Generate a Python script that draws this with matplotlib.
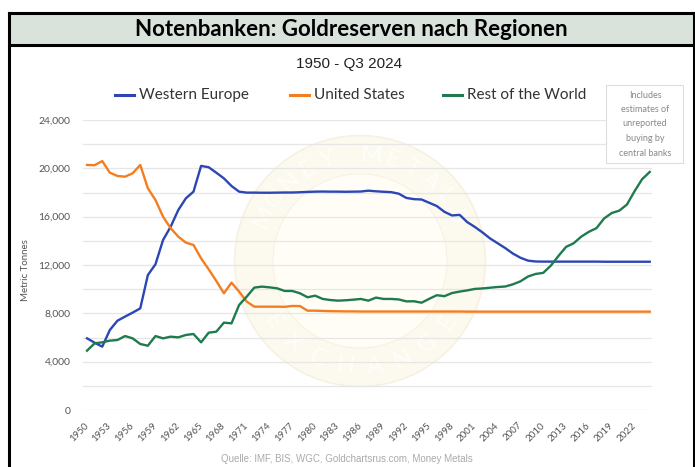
import matplotlib
matplotlib.use('Agg')
import matplotlib.pyplot as plt
import numpy as np
from matplotlib.lines import Line2D
from matplotlib.patches import Rectangle, Circle

# Data (metric tonnes)
years = list(range(1950, 2025))

western_europe = [
    5930, 5570, 5240, 6620, 7390, 7730, 8060, 8410, 11170, 12060,
    14070, 15170, 16550, 17520, 18070, 20200, 20090, 19640, 19170, 18540,
    18070, 17990, 17990, 17980, 17980, 17990, 18000, 18000, 18020, 18050,
    18070, 18080, 18070, 18070, 18060, 18070, 18080, 18150, 18100, 18060,
    18030, 17900, 17550, 17450, 17420, 17150, 16880, 16400, 16100, 16150,
    15550, 15150, 14700, 14200, 13800, 13400, 12950, 12600, 12360, 12290,
    12280, 12280, 12280, 12280, 12280, 12280, 12280, 12280, 12270, 12270,
    12270, 12270, 12270, 12270, 12270,
]

united_states = [
    20280, 20260, 20600, 19640, 19370, 19310, 19590, 20280, 18350, 17380,
    16000, 15040, 14350, 13850, 13660, 12550, 11640, 10680, 9660, 10540,
    9800, 8970, 8550, 8550, 8550, 8550, 8540, 8610, 8600, 8220,
    8220, 8200, 8180, 8170, 8160, 8160, 8150, 8150, 8150, 8150,
    8150, 8150, 8150, 8150, 8150, 8150, 8150, 8150, 8150, 8150,
    8140, 8140, 8140, 8140, 8140, 8140, 8140, 8140, 8140, 8140,
    8140, 8140, 8140, 8140, 8140, 8140, 8140, 8140, 8140, 8140,
    8140, 8140, 8140, 8140, 8140,
]

rest_of_world = [
    4910, 5520, 5600, 5740, 5790, 6120, 5930, 5460, 5320, 6120,
    5930, 6070, 6010, 6210, 6290, 5600, 6400, 6480, 7230, 7170,
    8690, 9380, 10130, 10210, 10150, 10070, 9850, 9850, 9660, 9330,
    9460, 9190, 9100, 9050, 9080, 9130, 9190, 9050, 9300, 9190,
    9190, 9150, 8990, 9000, 8880, 9200, 9500, 9420, 9680, 9800,
    9900, 10020, 10060, 10120, 10180, 10220, 10400, 10650, 11050, 11260,
    11350, 11950, 12750, 13500, 13800, 14350, 14750, 15050, 15850, 16300,
    16500, 17000, 18100, 19100, 19700,
]

series = [
    ('Western Europe', western_europe, '#2c46b4'),
    ('United States', united_states, '#f47d20'),
    ('Rest of the World', rest_of_world, '#1f7b4d'),
]

x_ticks = list(range(1950, 2023, 3))
y_ticks = [0, 4000, 8000, 12000, 16000, 20000, 24000]
y_grid = list(range(0, 24001, 2000))

W, H = 695, 467
fig = plt.figure(figsize=(W / 100, H / 100), dpi=100)
fig.patch.set_facecolor('white')


def fx(px):
    return px / W


def fy(py):
    return 1 - py / H


# faint watermark behind the plot
wm = fig.add_axes([fx(232), fy(389), fx(256), 256 / H], zorder=0)
wm.set_xlim(-1, 1)
wm.set_ylim(-1, 1)
wm.axis('off')
wm.add_patch(Circle((0, 0), 0.98, facecolor='#fcf9ef', edgecolor='#f6f1e2', lw=1.2))
wm.add_patch(Circle((0, 0), 0.68, facecolor='#fffdf6', edgecolor='#f7f2e4', lw=0.8))
for word, a0, a1, up in [('MONEY METALS', 155, 25, True), ('EXCHANGE', 215, 325, False)]:
    angs = np.linspace(a0, a1, len(word))
    for ch, a in zip(word, angs):
        r = 0.83
        rot = a - 90 if up else a + 90
        wm.text(r * np.cos(np.radians(a)), r * np.sin(np.radians(a)), ch,
                rotation=rot, ha='center', va='center', fontsize=17,
                color='#fffefa', family='Lato')

ax = fig.add_axes([fx(83), fy(410), fx(652) - fx(83), (410 - 120) / H], zorder=1)
ax.patch.set_alpha(0)

for y in y_grid:
    ax.axhline(y, color='#e6e6e6', lw=0.9, zorder=0)

for name, vals, col in series:
    ax.plot(years, vals, color=col, lw=1.7, zorder=3, solid_joinstyle='round')

ax.set_xlim(1949.47, 2024.3)
ax.set_ylim(0, 24000)
ax.set_xticks(x_ticks)
ax.set_xticklabels([str(v) for v in x_ticks], rotation=45, ha='right',
                   rotation_mode='anchor', va='center',
                   fontsize=7, color='#555555', family='Lato')
ax.set_yticks(y_ticks)
ax.set_yticklabels([f'{v:,}' for v in y_ticks], fontsize=7.5,
                   color='#555555', family='Lato')
ax.tick_params(axis='both', length=0)
ax.tick_params(axis='x', pad=10)
ax.tick_params(axis='y', pad=9)
for s in ax.spines.values():
    s.set_visible(False)

fig.text(fx(25), fy(270), 'Metric Tonnes', rotation=90, ha='center',
         va='center', fontsize=7, color='#555555', family='Lato')

# header band and outer frame
fig.add_artist(Rectangle((fx(8.5), fy(44.5)), fx(685), (44.5 - 12.5) / H,
                         facecolor='#d9e3dc', edgecolor='none',
                         transform=fig.transFigure, zorder=2))
frame = dict(color='black', lw=2.2, transform=fig.transFigure, zorder=5,
             solid_capstyle='projecting')
fig.add_artist(Line2D([fx(8.5), fx(693.5)], [fy(12.5), fy(12.5)], **frame))
fig.add_artist(Line2D([fx(8.5), fx(693.5)], [fy(44.5), fy(44.5)], **frame))
fig.add_artist(Line2D([fx(8.5), fx(8.5)], [fy(12.5), fy(470)], **frame))
fig.add_artist(Line2D([fx(693.5), fx(693.5)], [fy(12.5), fy(470)], **frame))

fig.text(fx(351), fy(29), 'Notenbanken: Goldreserven nach Regionen',
         ha='center', va='center', fontsize=16, fontweight='bold',
         color='black', family='Lato', zorder=6)
fig.text(fx(349), fy(64), '1950 - Q3 2024', ha='center', va='center',
         fontsize=11, color='#222222', family='Liberation Sans')

# legend drawn by hand to match the spacing
legend_pos = [(115, 139), (290, 314), (443, 467)]
for (x0, xt), (name, vals, col) in zip(legend_pos, series):
    fig.add_artist(Line2D([fx(x0), fx(x0 + 19)], [fy(95), fy(95)], color=col,
                          lw=2.2, transform=fig.transFigure))
    fig.text(fx(xt), fy(95), name, ha='left', va='center', fontsize=11,
             color='#333333', family='Lato')

# note box
fig.add_artist(Rectangle((fx(606), fy(163)), fx(77), (163 - 85) / H,
                         facecolor='white', edgecolor='#dddddd', lw=0.8,
                         transform=fig.transFigure, zorder=4))
note = ['Includes', 'estimates of', 'unreported', 'buying by', 'central banks']
for i, line in enumerate(note):
    fig.text(fx(645), fy(95 + i * 14.5), line, ha='center', va='center',
             fontsize=6.5, color='#888888', family='Lato', zorder=5)

fig.text(fx(347), fy(459), 'Quelle: IMF, BIS, WGC, Goldchartsrus.com, Money Metals',
         ha='center', va='center', fontsize=7, color='#aaaaaa',
         family='Liberation Sans')

fig.savefig('out.png', dpi=100)
